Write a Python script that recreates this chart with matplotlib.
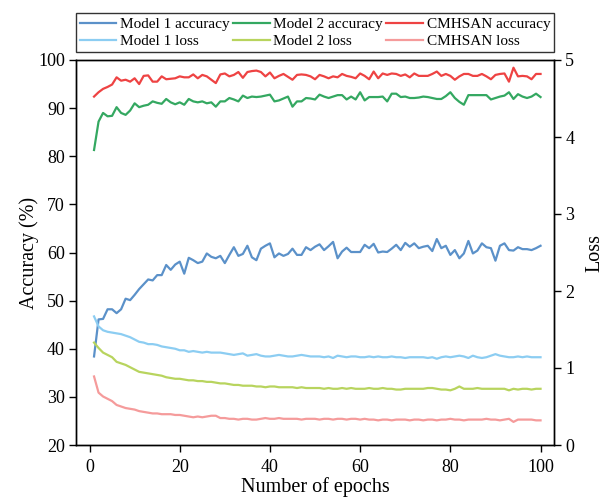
import matplotlib
matplotlib.use("Agg")
import matplotlib.pyplot as plt

plt.rcParams["font.family"] = ["Liberation Serif", "DejaVu Serif"]
plt.rcParams["mathtext.fontset"] = "stix"

epochs = list(range(1, 101))

model1_acc = [
    38.4, 46.1, 46.2, 48.2, 48.2, 47.4, 48.2, 50.4, 50.1, 51.2,
    52.4, 53.4, 54.4, 54.2, 55.3, 55.3, 57.4, 56.4, 57.5, 58.1,
    55.6, 58.9, 58.4, 57.8, 58.1, 59.8, 59.1, 58.8, 59.3, 57.8,
    59.5, 61.1, 59.3, 59.7, 61.4, 59.0, 58.4, 60.8, 61.4, 61.9,
    59.0, 59.8, 59.3, 59.7, 60.8, 59.5, 59.5, 61.1, 60.5, 61.2,
    61.7, 60.5, 61.3, 62.2, 58.8, 60.2, 61.0, 60.1, 60.1, 60.1,
    61.6, 60.9, 61.8, 60.0, 60.2, 60.1, 60.8, 61.6, 60.5, 62.0,
    61.2, 61.9, 60.9, 61.2, 61.4, 60.3, 62.8, 60.9, 61.4, 59.5,
    60.5, 58.8, 59.8, 62.4, 59.8, 60.4, 61.9, 61.1, 60.9, 58.3,
    61.4, 61.9, 60.5, 60.4, 61.1, 60.7, 60.7, 60.5, 60.9, 61.4,
]
model2_acc = [
    81.3, 87.2, 89.0, 88.3, 88.4, 90.2, 89.0, 88.6, 89.5, 91.0,
    90.2, 90.5, 90.7, 91.4, 91.1, 90.9, 91.9, 91.2, 90.8, 91.2,
    90.7, 91.9, 91.4, 91.2, 91.4, 91.0, 91.2, 90.3, 91.4, 91.4,
    92.1, 91.8, 91.4, 92.6, 92.1, 92.4, 92.3, 92.4, 92.6, 92.8,
    91.4, 91.6, 92.0, 92.4, 90.3, 91.4, 91.4, 92.1, 92.0, 91.8,
    92.8, 92.4, 92.1, 92.4, 92.7, 92.7, 91.8, 92.4, 91.8, 93.3,
    91.6, 92.3, 92.3, 92.3, 92.4, 91.4, 93.0, 93.0, 92.3, 92.4,
    92.1, 92.1, 92.2, 92.4, 92.3, 92.1, 91.9, 91.9, 92.5, 93.3,
    92.1, 91.3, 90.7, 92.7, 92.7, 92.7, 92.7, 92.7, 91.8, 92.1,
    92.4, 92.6, 93.3, 91.9, 92.9, 92.4, 92.1, 92.4, 93.0, 92.3,
]
cmhsan_acc = [
    92.4, 93.3, 94.0, 94.4, 94.9, 96.4, 95.7, 95.9, 95.5, 96.2,
    95.0, 96.7, 96.8, 95.5, 95.5, 96.6, 96.0, 96.1, 96.2, 96.6,
    96.4, 96.4, 97.0, 96.2, 96.9, 96.6, 95.9, 95.2, 97.0, 97.2,
    96.6, 96.9, 97.5, 96.3, 97.5, 97.7, 97.8, 97.5, 96.6, 97.4,
    96.2, 96.7, 97.1, 96.5, 95.9, 96.9, 97.0, 96.9, 96.6, 96.0,
    96.9, 96.6, 96.2, 96.6, 96.4, 97.1, 96.7, 96.5, 96.2, 97.2,
    96.7, 96.0, 97.6, 96.2, 97.2, 96.9, 97.2, 97.1, 96.7, 97.0,
    96.4, 97.2, 96.7, 96.7, 96.7, 97.1, 97.6, 96.7, 97.1, 96.7,
    95.9, 96.6, 97.1, 97.1, 96.7, 96.7, 97.1, 96.6, 96.0, 96.9,
    97.1, 97.2, 95.5, 98.4, 96.6, 96.7, 96.6, 96.0, 97.1, 97.1,
]

model1_loss = [
    1.67, 1.54, 1.49, 1.47, 1.46, 1.45, 1.44, 1.42, 1.40, 1.37,
    1.34, 1.33, 1.31, 1.31, 1.30, 1.28, 1.27, 1.26, 1.25, 1.23,
    1.23, 1.21, 1.22, 1.21, 1.20, 1.21, 1.20, 1.20, 1.20, 1.19,
    1.18, 1.17, 1.18, 1.19, 1.16, 1.17, 1.18, 1.16, 1.15, 1.15,
    1.16, 1.17, 1.16, 1.15, 1.15, 1.16, 1.17, 1.16, 1.15, 1.15,
    1.15, 1.14, 1.15, 1.13, 1.16, 1.15, 1.14, 1.15, 1.15, 1.14,
    1.14, 1.15, 1.14, 1.15, 1.14, 1.14, 1.15, 1.14, 1.14, 1.13,
    1.14, 1.14, 1.14, 1.14, 1.13, 1.14, 1.12, 1.14, 1.15, 1.14,
    1.15, 1.16, 1.15, 1.13, 1.16, 1.14, 1.13, 1.14, 1.16, 1.18,
    1.16, 1.15, 1.14, 1.14, 1.15, 1.14, 1.15, 1.14, 1.14, 1.14,
]
model2_loss = [
    1.33, 1.26, 1.20, 1.17, 1.14, 1.08, 1.06, 1.04, 1.01, 0.98,
    0.95, 0.94, 0.93, 0.92, 0.91, 0.90, 0.88, 0.87, 0.86, 0.86,
    0.85, 0.84, 0.84, 0.83, 0.83, 0.82, 0.82, 0.81, 0.80, 0.80,
    0.79, 0.78, 0.78, 0.77, 0.77, 0.77, 0.76, 0.76, 0.75, 0.76,
    0.76, 0.75, 0.75, 0.75, 0.75, 0.74, 0.75, 0.74, 0.74, 0.74,
    0.74, 0.73, 0.74, 0.73, 0.73, 0.74, 0.73, 0.74, 0.73, 0.73,
    0.73, 0.74, 0.73, 0.73, 0.74, 0.73, 0.73, 0.72, 0.72, 0.73,
    0.73, 0.73, 0.73, 0.73, 0.74, 0.74, 0.73, 0.72, 0.72, 0.71,
    0.73, 0.76, 0.73, 0.73, 0.73, 0.74, 0.73, 0.73, 0.73, 0.73,
    0.73, 0.73, 0.71, 0.73, 0.72, 0.73, 0.73, 0.72, 0.73, 0.73,
]
cmhsan_loss = [
    0.89, 0.68, 0.63, 0.60, 0.57, 0.52, 0.50, 0.48, 0.47, 0.46,
    0.44, 0.43, 0.42, 0.41, 0.41, 0.40, 0.40, 0.40, 0.39, 0.39,
    0.38, 0.37, 0.36, 0.37, 0.36, 0.37, 0.38, 0.38, 0.35, 0.35,
    0.34, 0.34, 0.33, 0.34, 0.34, 0.33, 0.33, 0.34, 0.35, 0.34,
    0.34, 0.35, 0.34, 0.34, 0.34, 0.34, 0.33, 0.34, 0.34, 0.34,
    0.33, 0.34, 0.34, 0.33, 0.34, 0.34, 0.33, 0.34, 0.34, 0.33,
    0.34, 0.33, 0.33, 0.32, 0.33, 0.33, 0.32, 0.33, 0.33, 0.33,
    0.32, 0.33, 0.33, 0.32, 0.33, 0.33, 0.32, 0.33, 0.33, 0.34,
    0.33, 0.33, 0.32, 0.33, 0.33, 0.33, 0.33, 0.34, 0.33, 0.33,
    0.32, 0.33, 0.34, 0.30, 0.33, 0.33, 0.33, 0.33, 0.32, 0.32,
]

acc_labels = ["Model 1 accuracy", "Model 2 accuracy", "CMHSAN accuracy"]
loss_labels = ["Model 1 loss", "Model 2 loss", "CMHSAN loss"]
acc_colors = ["#5b91c9", "#34a861", "#ee4343"]
loss_colors = ["#8ccdf2", "#b8d45e", "#f59b9b"]

fig = plt.figure(figsize=(6.09, 5.0), dpi=100)
ax = fig.add_axes([0.1248, 0.11, 0.785, 0.77])
ax2 = ax.twinx()

acc_lines = []
for vals, lab, col in zip([model1_acc, model2_acc, cmhsan_acc], acc_labels, acc_colors):
    (ln,) = ax.plot(epochs, vals, color=col, lw=1.6, label=lab)
    acc_lines.append(ln)

loss_lines = []
for vals, lab, col in zip([model1_loss, model2_loss, cmhsan_loss], loss_labels, loss_colors):
    (ln,) = ax2.plot(epochs, vals, color=col, lw=1.6, label=lab)
    loss_lines.append(ln)

ax.set_xlim(-3, 103)
ax.set_ylim(20, 100)
ax2.set_ylim(0, 5)
ax.set_xticks([0, 20, 40, 60, 80, 100])
ax.set_yticks(range(20, 101, 10))
ax2.set_yticks(range(0, 6))

for a in (ax, ax2):
    a.tick_params(labelsize=13, length=5, width=1.0, direction="out", pad=3)
    for sp in a.spines.values():
        sp.set_linewidth(1.0)
ax.tick_params(axis="x", pad=5)

ax.set_xlabel("Number of epochs", fontsize=14.5, labelpad=1)
ax.set_ylabel("Accuracy (%)", fontsize=14.5, labelpad=-1)
ax2.set_ylabel("Loss", fontsize=14.5, labelpad=8)

# legend above the plot, three columns (row 1 accuracy, row 2 loss)
handles = []
for la, ll in zip(acc_lines, loss_lines):
    handles += [la, ll]
leg = ax.legend(
    handles=handles,
    labels=[h.get_label() for h in handles],
    ncol=3,
    loc="lower left",
    bbox_to_anchor=(0.0, 1.02, 1.0, 0.1),
    mode="expand",
    borderaxespad=0.0,
    fontsize=11,
    frameon=True,
    fancybox=False,
    edgecolor="black",
    handlelength=2.4,
    handletextpad=0.25,
    columnspacing=0.3,
    labelspacing=0.25,
    borderpad=0.25,
)
leg.get_frame().set_linewidth(1.0)

fig.savefig("out.png", dpi=100)
